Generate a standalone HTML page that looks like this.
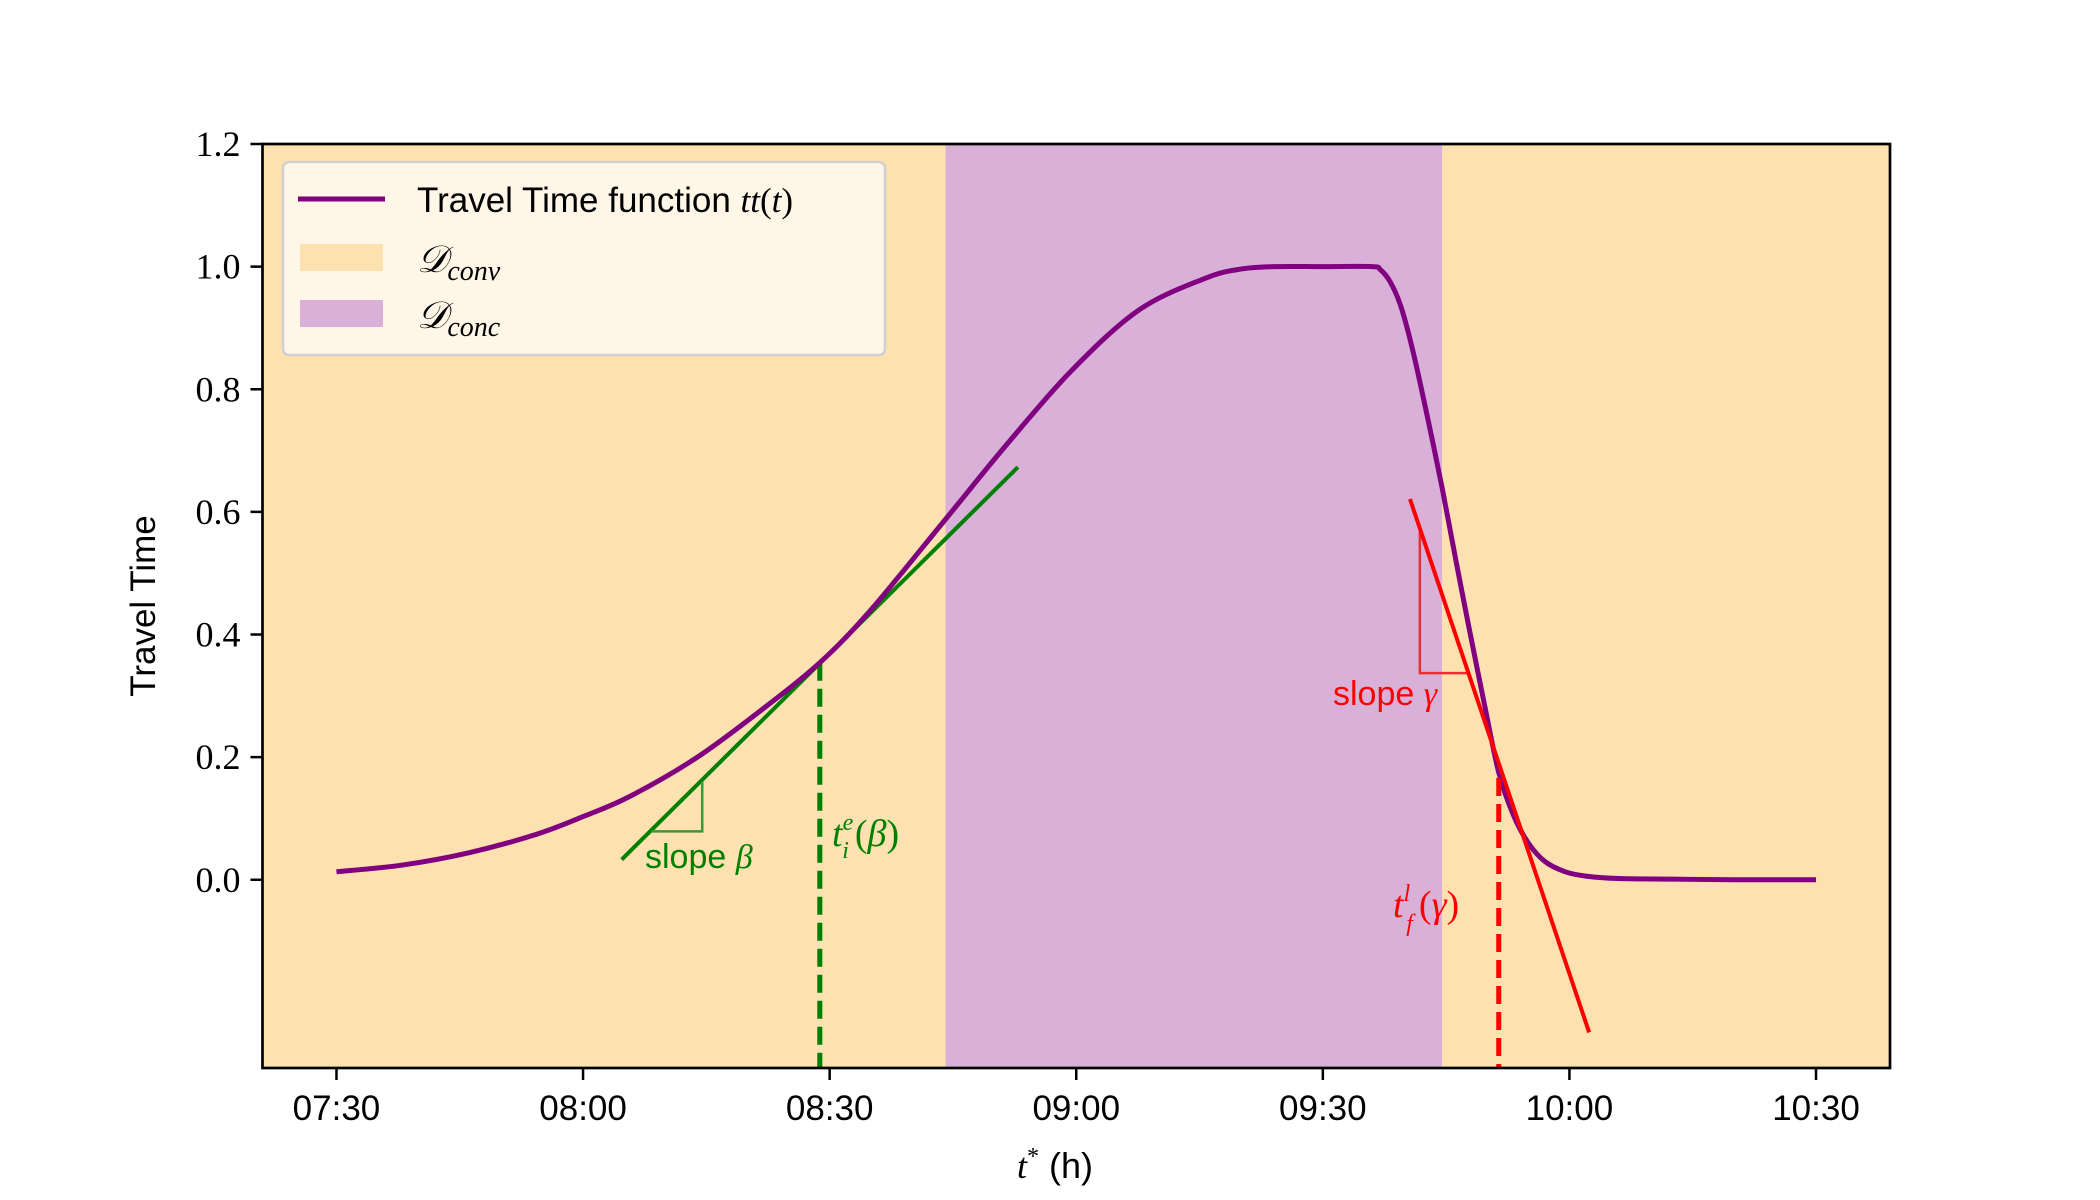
<!DOCTYPE html>
<html><head><meta charset="utf-8">
<style>
html,body{margin:0;padding:0;background:#fff;}
svg{display:block;}
.serif{font-family:"Liberation Serif",serif;}
.sans{font-family:"Liberation Sans",sans-serif;}
</style></head>
<body>
<svg id="chart" width="2100" height="1200" viewBox="0 0 2100 1200">
</svg>
<script>
// minutes after 07:30
const curveTimes = [0,8,16.1,24.3,30,35.7,43.8,52,58.8,65,74.1,81.3,89.4,97.6,105.7,110,114,120,126,127,128.2,129.5,131,132.8,134.5,136.2,137.8,139.6,141.4,143.2,145,147,149.5,152,156,162.7,170,180];
const curveValues = [0.013,0.024,0.044,0.074,0.103,0.136,0.199,0.28,0.354,0.44,0.588,0.706,0.83,0.929,0.981,0.996,1.0,1.0,1.0,0.995,0.975,0.935,0.86,0.75,0.64,0.52,0.41,0.29,0.175,0.105,0.06,0.03,0.013,0.006,0.002,0.001,0,0];
const xTickMinutes = [0,30,60,90,120,150,180];
const xTickLabels = ["07:30","08:00","08:30","09:00","09:30","10:00","10:30"];
const yTickValues = [0,0.2,0.4,0.6,0.8,1.0,1.2];
const yTickLabels = ["0.0","0.2","0.4","0.6","0.8","1.0","1.2"];
const concRegion = [74.1,134.5];
const greenTangent = [[34.7,0.033],[82.9,0.673]];
const greenPoint = [58.8,0.354];
const greenTriangle = [[38.3,0.079],[44.5,0.079],[44.5,0.16]];
const redTangent = [[130.6,0.621],[152.4,-0.249]];
const redPoint = [141.4,0.166];
const redTriangle = [[131.8,0.575],[131.8,0.337],[137.8,0.337]];

const L=262.5,R=1890,T=144,B=1068,xmin=-9,xmax=189,ymin=-0.307,ymax=1.2;
const X=m=>L+(m-xmin)/(xmax-xmin)*(R-L);
const Y=v=>B-(v-ymin)/(ymax-ymin)*(B-T);
const svg=document.getElementById('chart');
const NS='http://www.w3.org/2000/svg';
function mk(tag,attrs,parent){const e=document.createElementNS(NS,tag);for(const k in attrs)e.setAttribute(k,attrs[k]);(parent||svg).appendChild(e);return e;}
function smoothPath(pts){let d='M'+pts[0][0]+','+pts[0][1];for(let i=0;i<pts.length-1;i++){const p0=pts[Math.max(0,i-1)],p1=pts[i],p2=pts[i+1],p3=pts[Math.min(pts.length-1,i+2)];const c1x=p1[0]+(p2[0]-p0[0])/6,c1y=p1[1]+(p2[1]-p0[1])/6,c2x=p2[0]-(p3[0]-p1[0])/6,c2y=p2[1]-(p3[1]-p1[1])/6;d+=' C'+c1x+','+c1y+' '+c2x+','+c2y+' '+p2[0]+','+p2[1];}return d;}

let e;
e=mk('rect',{x:L,y:T,width:R-L,height:B-T,fill:'#fee1b1'});


e=mk('rect',{x:X(concRegion[0]),y:T,width:X(concRegion[1])-X(concRegion[0]),height:B-T,fill:'#d8b0d8'});



e=mk('line',{x1:X(greenTangent[0][0]),y1:Y(greenTangent[0][1]),x2:X(greenTangent[1][0]),y2:Y(greenTangent[1][1]),stroke:'#008000','stroke-width':4});


e=mk('polyline',{points:greenTriangle.map(p=>X(p[0])+','+Y(p[1])).join(' '),fill:'none',stroke:'#3a9a3a','stroke-width':2.5});


e=mk('line',{x1:X(greenPoint[0]),y1:Y(greenPoint[1]),x2:X(greenPoint[0]),y2:B,stroke:'#008000','stroke-width':5,'stroke-dasharray':'18,8'});


e=mk('polyline',{points:redTriangle.map(p=>X(p[0])+','+Y(p[1])).join(' '),fill:'none',stroke:'#e83030','stroke-width':2.5});



e=mk('path',{d:smoothPath(curveTimes.map((t,i)=>[X(t),Y(curveValues[i])])),fill:'none',stroke:'#800080','stroke-width':5,'stroke-linejoin':'round'});



e=mk('line',{x1:X(redTangent[0][0]),y1:Y(redTangent[0][1]),x2:X(redTangent[1][0]),y2:Y(redTangent[1][1]),stroke:'#ff0000','stroke-width':4});


e=mk('line',{x1:X(redPoint[0]),y1:Y(redPoint[1]),x2:X(redPoint[0]),y2:B,stroke:'#ff0000','stroke-width':5,'stroke-dasharray':'18,8'});



function txt(x,y,html,cls,fill,size,name,anchor){const t=mk('text',{x:x,y:y,fill:fill,'font-size':size,'class':cls});if(anchor)t.setAttribute('text-anchor',anchor);t.innerHTML=html;return t;}
txt(645,868,'slope <tspan class="serif" font-style="italic">β</tspan>','sans','#008000',34,'slope-beta-label');
txt(832,846,'<tspan font-style="italic">t</tspan><tspan font-size="24" dy="-16" font-style="italic">e</tspan><tspan font-size="24" dx="-11" dy="28" font-style="italic">i</tspan><tspan dx="6" dy="-12">(</tspan><tspan font-style="italic">β</tspan>)','serif','#008000',38,'t-i-e-beta-label');
txt(1333,705,'slope <tspan class="serif" font-style="italic">γ</tspan>','sans','#ff0000',34,'slope-gamma-label');
txt(1393,917,'<tspan font-style="italic">t</tspan><tspan font-size="24" dy="-16" font-style="italic">l</tspan><tspan font-size="24" dx="-4" dy="30" font-style="italic">f</tspan><tspan dx="6" dy="-14">(</tspan><tspan font-style="italic">γ</tspan>)','serif','#ff0000',38,'t-f-l-gamma-label');

e=mk('rect',{x:L,y:T,width:R-L,height:B-T,fill:'none',stroke:'#000','stroke-width':2.7});



xTickMinutes.forEach((m,i)=>{
  const t=mk('line',{x1:X(m),y1:B,x2:X(m),y2:B+12,stroke:'#000','stroke-width':2.5});
  
  
  txt(X(m),B+52,xTickLabels[i],'sans','#000',35,'x-tick-label','middle');
});
yTickValues.forEach((v,i)=>{
  const t=mk('line',{x1:L-12,y1:Y(v),x2:L,y2:Y(v),stroke:'#000','stroke-width':2.5});
  
  
  txt(L-22,Y(v)+12,yTickLabels[i],'serif','#000',36,'y-tick-label','end');
});
txt(1055,1178,'<tspan class="serif" font-style="italic">t</tspan><tspan class="serif" font-size="24" dy="-14">*</tspan><tspan dy="14"> (h)</tspan>','sans','#000',36,'x-axis-title','middle');
const yt=txt(0,0,'Travel Time','sans','#000',35,'y-axis-title','middle');
yt.setAttribute('transform','translate(155,606) rotate(-90)');

const lg=mk('g',{});


e=mk('rect',{x:283,y:162,width:602,height:193,rx:6,fill:'#fff8ee','fill-opacity':0.9,stroke:'#d0d0d0','stroke-width':2.5},lg);


e=mk('line',{x1:298,y1:199,x2:385,y2:199,stroke:'#800080','stroke-width':5},lg);


e=mk('rect',{x:300,y:244,width:83,height:27,fill:'#fee1b1'},lg);


e=mk('rect',{x:300,y:300,width:83,height:27,fill:'#d8b0d8'},lg);


lg.appendChild(txt(417,212,'Travel Time function <tspan class="serif" font-style="italic">tt</tspan><tspan class="serif">(</tspan><tspan class="serif" font-style="italic">t</tspan><tspan class="serif">)</tspan>','sans','#000',35,'legend-entry-curve'));
lg.appendChild(txt(417,272,'<tspan font-style="italic">𝒟</tspan><tspan font-size="28" dy="8" font-style="italic">conv</tspan>','serif','#000',38,'legend-entry-conv'));
lg.appendChild(txt(417,328,'<tspan font-style="italic">𝒟</tspan><tspan font-size="28" dy="8" font-style="italic">conc</tspan>','serif','#000',38,'legend-entry-conc'));
</script>
</body></html>
